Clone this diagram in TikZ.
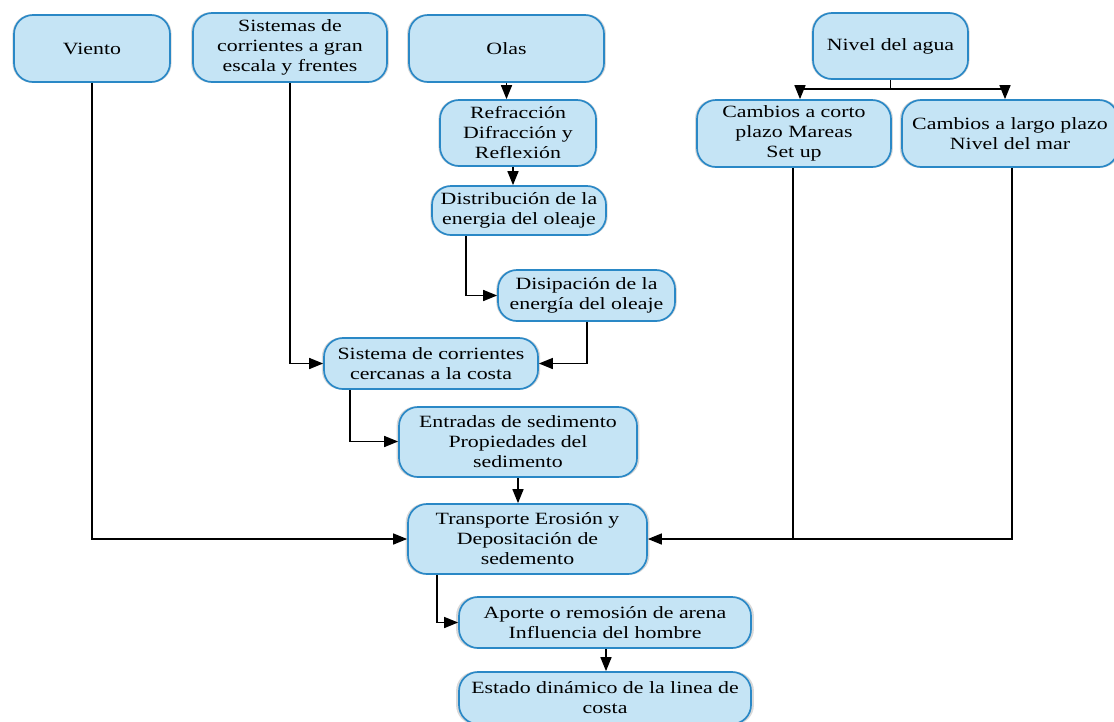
\documentclass[tikz,border=0pt]{standalone}
\usepackage{fontspec}
\setmainfont{Liberation Serif}[FakeStretch=1.27]
\usetikzlibrary{arrows.meta,shadows}
\definecolor{boxfill}{HTML}{C5E4F5}
\definecolor{boxline}{HTML}{2A88C6}
\tikzset{
  box/.style={draw=boxline, fill=boxfill, line width=1.7pt, rounded corners=19pt,
    align=center, inner sep=0pt, font=\fontsize{17.2}{20}\selectfont,
    drop shadow={shadow xshift=0pt, shadow yshift=0pt, shadow scale=1.02, opacity=0.25, fill=black!60}},
  conn/.style={draw=black, line width=1.5pt, -{Triangle[length=14pt,width=11pt]}},
  plain/.style={draw=black, line width=1.3pt}
}
\begin{document}
\begin{tikzpicture}[x=1pt,y=-1pt]
\useasboundingbox (0,0) rectangle (1114,721);
% boxes
\node[box, minimum width=156pt, minimum height=67pt] (viento) at (92,48.5) {Viento};
\node[box, minimum width=194pt, minimum height=69pt] (sistemas) at (290,47.5) {Sistemas de\\corrientes a gran\\escala y frentes};
\node[box, minimum width=195pt, minimum height=67pt] (olas) at (506.5,48.5) {Olas};
\node[box, minimum width=155pt, minimum height=66pt] (nivel) at (890.5,46) {Nivel del agua};
\node[box, minimum width=156pt, minimum height=66pt] (refr) at (518,133) {Refracción\\Difracción y\\Reflexión};
\node[box, minimum width=174pt, minimum height=49pt] (distr) at (519,210.5) {Distribución de la\\energia del oleaje};
\node[box, minimum width=177pt, minimum height=51pt] (disip) at (586.5,295.5) {Disipación de la\\energía del oleaje};
\node[box, minimum width=214pt, minimum height=51pt] (scorr) at (431,363.5) {Sistema de corrientes\\cercanas a la costa};
\node[box, minimum width=238pt, minimum height=70pt] (entr) at (518,442) {Entradas de sedimento\\Propiedades del\\sedimento};
\node[box, minimum width=239pt, minimum height=70pt] (transp) at (527.5,539) {Transporte Erosión y\\Depositación de\\sedemento};
\node[box, minimum width=292pt, minimum height=51pt] (aporte) at (605,622.5) {Aporte o remosión de arena\\Influencia del hombre};
\node[box, minimum width=292pt, minimum height=52pt] (estado) at (605,698) {Estado dinámico de la linea de\\costa};
\node[box, minimum width=194pt, minimum height=67pt] (corto) at (794,133.5) {Cambios a corto\\plazo Mareas\\Set up};
\node[box, minimum width=216pt, minimum height=67pt] (largo) at (1010,133.5) {Cambios a largo plazo\\Nivel del mar};
% connectors
\draw[conn] (olas.south -| 506.5,0) -- (refr.north -| 506.5,0);
\draw[conn] (refr.south -| 513,0) -- (distr.north -| 513,0);
\draw[conn] (distr.south -| 466,0) |- (disip.west);
\draw[conn] (disip.south -| 587,0) |- (scorr.east);
\draw[conn] (sistemas.south) |- (scorr.west);
\draw[conn] (scorr.south -| 350,0) |- (entr.west |- 0,441.5);
\draw[conn] (entr.south -| 518,0) -- (transp.north -| 518,0);
\draw[conn] (viento.south) |- (transp.west);
\draw[conn] (transp.south -| 437,0) |- (aporte.west);
\draw[conn] (aporte.south -| 606,0) -- (estado.north -| 606,0);
% nivel del agua
\coordinate (nj) at (890.5,89);
\draw[plain] (nivel.south) -- (nj);
\draw[conn] (nj) -| (corto.north -| 800,0);
\draw[conn] (nj) -| (largo.north -| 1005,0);
% corto / largo to transporte
\coordinate (cj) at (793,539);
\draw[plain] (corto.south -| 793,0) -- (cj);
\draw[conn] (largo.south -| 1012,0) |- (transp.east);
\end{tikzpicture}
\end{document}
